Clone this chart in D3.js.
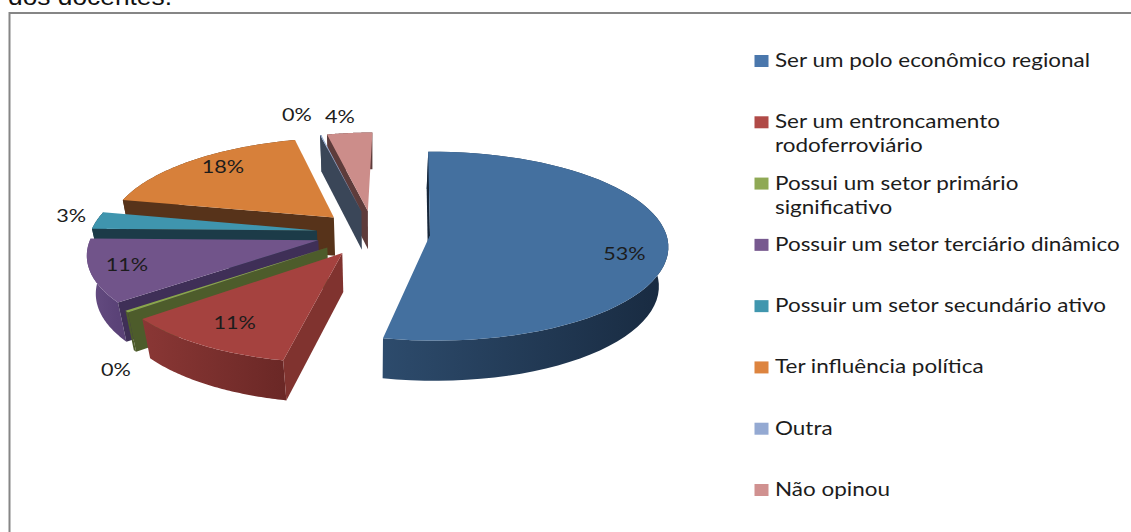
<!DOCTYPE html>
<html lang="en">
<head>
<meta charset="utf-8"/>
<title>Pizza 3D</title>
<script src="https://cdn.jsdelivr.net/npm/d3@7"></script>
<style>
  html, body { margin: 0; padding: 0; background: #fff; overflow: hidden; }
  .lbl { font-family: Lato, "Open Sans", sans-serif; fill: #1c1c1c; }
</style>
</head>
<body>
<svg id="chart" width="1131" height="532"></svg>
<script>
// data (the "0%" ones are small but not empty)
var categories = ["Ser um polo econômico regional", "Ser um entroncamento rodoferroviário",
  "Possui um setor primário significativo", "Possuir um setor terciário dinâmico",
  "Possuir um setor secundário ativo", "Ter influência política", "Outra", "Não opinou"];
var values = [53, 11, 0.3, 11, 3, 18, 0.1, 3.6];

// legend line breaks
var legendLines = [
  ["Ser um polo econômico regional"],
  ["Ser um entroncamento", "rodoferroviário"],
  ["Possui um setor primário", "significativo"],
  ["Possuir um setor terciário dinâmico"],
  ["Possuir um setor secundário ativo"],
  ["Ter influência política"],
  ["Outra"],
  ["Não opinou"]];

// colours per slice: top, legend, side wall, rim left, rim right
var topColors = ["#44709f", "#a5423f", "#8aa64b", "#71548a", "#3f95ae", "#d7803a", "#93a9cf", "#cc8d8a"];
var legendColors = ["#4a77ac", "#b04a47", "#8fa955", "#77598f", "#4096ae", "#dd843f", "#94a9d2", "#d09190"];
var wallColors = ["#16263a", "#80332f", "#4d5c2b", "#3f2f57", "#1c3b48", "#57331a", "#3a4658", "#5e3c3b"];
var rimLeft = ["#2d4b6c", "#8a3735", "#4d5c2b", "#664d82", "#1c3b48", "#57331a", "#3a4658", "#5e3c3b"];
var rimRight = ["#182a40", "#6b2826", "#4d5c2b", "#5a4277", "#1c3b48", "#57331a", "#3a4658", "#5e3c3b"];

// where each data label sits: fraction of radius along mid angle, then nudges
var labelRadius = [0.82, 0.81, 1.05, 0.82, 1.12, 0.69, 1.30, 1.30];
var labelNudgeX = [0, 4, 0, -5, 0, -10, -13, -5];
var labelNudgeY = [11, -3, 55, 0, -3, -10, 0, 4];

var svg = d3.select("#chart");

// page text clipped by the top of the crop
svg.append("text")
  .attr("x", 8).attr("y", 5)
  .attr("font-family", "Liberation Sans, Arial, sans-serif")
  .attr("font-size", 23)
  .attr("textLength", 164).attr("lengthAdjust", "spacingAndGlyphs")
  .attr("fill", "#111")
  .text("dos docentes.");

// chart frame, runs off the right and bottom
svg.append("path")
  .attr("d", "M9.5,540V13H1140")
  .attr("fill", "none")
  .attr("stroke", "#868686")
  .attr("stroke-width", 2);

// 3D view of the pie
var cx = 373, cy = 233, R = 231, explode = 57, squash = 0.4, depth = 40;
var pX = 0.00006, pY = 0.0005, pZ = 0.0008, shear = 0.02;

function project(X, Y, z) {
  var s = 1 / (1 - pX * X - pY * Y + pZ * z);
  return [cx + (X - shear * Y) * s, cy + (squash * Y + z) * s];
}

var pie = d3.pie().sort(null).startAngle(0).endAngle(2 * Math.PI);
var slices = pie(values).map(function(d, i) {
  var mid = (d.startAngle + d.endAngle) / 2;
  d.i = i;
  d.mid = mid;
  d.ox = Math.sin(mid) * explode;
  d.oy = -Math.cos(mid) * explode;
  return d;
});

function rimPt(d, a, z, r) {
  return project(d.ox + Math.sin(a) * (r || R), d.oy - Math.cos(a) * (r || R), z);
}

var line = d3.line();
var defs = svg.append("defs");
var pieG = svg.append("g");

// back to front: last slices are furthest back, so walk the angles downwards
var order = [7, 6, 5, 4, 3, 2, 1, 0];

order.forEach(function(i) {
  var d = slices[i];
  var steps = d3.range(0, 61).map(function(k) { return d.startAngle + (d.endAngle - d.startAngle) * k / 60; });
  var topArc = steps.map(function(a) { return rimPt(d, a, 0); });
  var lowArc = steps.map(function(a) { return rimPt(d, a, depth); }).reverse();
  var apex = project(d.ox, d.oy, 0);
  var apexLow = project(d.ox, d.oy, depth);
  var x0 = d3.min(topArc, function(p) { return p[0]; });
  var x1 = d3.max(topArc, function(p) { return p[0]; });

  var grad = defs.append("linearGradient")
    .attr("id", "rim" + i)
    .attr("gradientUnits", "userSpaceOnUse")
    .attr("x1", x0).attr("x2", x1).attr("y1", 0).attr("y2", 0);
  grad.append("stop").attr("offset", "0%").attr("stop-color", rimLeft[i]);
  grad.append("stop").attr("offset", "100%").attr("stop-color", rimRight[i]);

  // outer curved wall
  pieG.append("path")
    .attr("d", line(topArc.concat(lowArc)) + "Z")
    .attr("fill", "url(#rim" + i + ")");

  // flat wall on the start edge
  pieG.append("path")
    .attr("d", line([apex, topArc[0], rimPt(d, d.startAngle, depth), apexLow]) + "Z")
    .attr("fill", wallColors[i]);

  // top face
  pieG.append("path")
    .attr("d", line([apex].concat(topArc)) + "Z")
    .attr("fill", topColors[i]);
});

// data labels
svg.append("g").selectAll("text")
  .data(slices)
  .enter().append("text")
  .attr("class", "lbl")
  .attr("font-size", 18)
  .attr("text-anchor", "middle")
  .attr("transform", function(d, i) {
    var p = rimPt(d, d.mid, 0, R * labelRadius[i]);
    return "translate(" + (p[0] + labelNudgeX[i]) + "," + (p[1] + labelNudgeY[i] + 6) + ") scale(1.2,1)";
  })
  .text(function(d) { return Math.round(d.value) + "%"; });

// legend
var legendY = d3.scalePoint().domain(d3.range(categories.length)).range([61, 490]);
var legend = svg.append("g").selectAll("g")
  .data(categories)
  .enter().append("g")
  .attr("transform", function(d, i) { return "translate(754," + legendY(i) + ")"; });

legend.append("rect")
  .attr("x", 0.5).attr("y", -6)
  .attr("width", 14).attr("height", 12)
  .attr("fill", function(d, i) { return legendColors[i]; });

legend.each(function(d, i) {
  var g = d3.select(this);
  legendLines[i].forEach(function(t, j) {
    g.append("text")
      .attr("class", "lbl")
      .attr("font-size", 18.5)
      .attr("transform", "translate(21," + (6 + j * 24) + ") scale(1.215,1)")
      .text(t);
  });
});
</script>
</body>
</html>
